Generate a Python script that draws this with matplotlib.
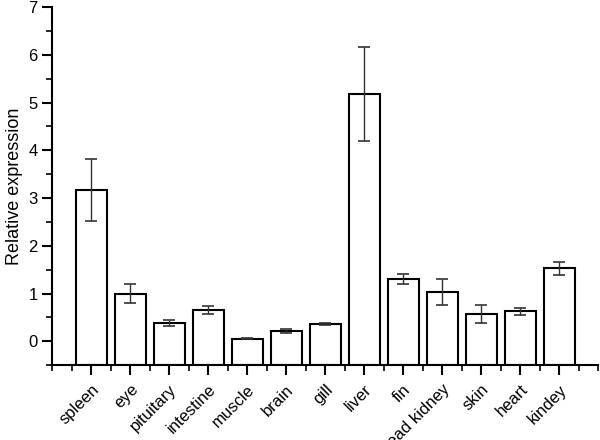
import numpy as np
import matplotlib
matplotlib.use("Agg")
import matplotlib.pyplot as plt
from matplotlib.ticker import MultipleLocator

plt.rcParams["font.family"] = ["Liberation Sans", "DejaVu Sans"]

tissues = ["spleen", "eye", "pituitary", "intestine", "muscle", "brain", "gill",
           "liver", "fin", "head kidney", "skin", "heart", "kindey"]
expr = [3.16, 1.00, 0.39, 0.66, 0.05, 0.21, 0.36, 5.18, 1.30, 1.03, 0.58, 0.63, 1.53]
err = [0.65, 0.20, 0.06, 0.08, 0.01, 0.04, 0.02, 0.98, 0.11, 0.27, 0.19, 0.07, 0.14]

ymin = -0.5

fig = plt.figure(figsize=(6, 4.4), dpi=100)
ax = fig.add_axes([0.087, 0.17, 0.91, 0.814])

x = np.arange(len(tissues))
# bars in the original start at the axis line, not at zero
ax.bar(x, np.array(expr) - ymin, bottom=ymin, width=0.8, color="white",
       edgecolor="black", linewidth=1.5)
ax.errorbar(x, expr, yerr=err, fmt="none", ecolor="#333333", elinewidth=1,
            capsize=4, capthick=1.2)

ax.set_xlim(-1, len(tissues))
ax.set_ylim(ymin, 7)
ax.spines["top"].set_visible(False)
ax.spines["right"].set_visible(False)
ax.spines["left"].set_linewidth(1.5)
ax.spines["bottom"].set_linewidth(1.5)
ax.spines["bottom"].set_zorder(3)

ax.set_xticks(x)
ax.set_xticklabels(tissues, rotation=45, ha="right", rotation_mode="anchor", fontsize=11.5)
ax.xaxis.set_minor_locator(MultipleLocator(0.5))
ax.yaxis.set_major_locator(MultipleLocator(1))
ax.yaxis.set_minor_locator(MultipleLocator(0.5))
ax.tick_params(which="major", length=7, width=1.5, labelsize=12)
ax.tick_params(axis="x", which="major", pad=5)
ax.tick_params(which="minor", length=4, width=1.2)
ax.set_ylabel("Relative expression", fontsize=13)

fig.savefig("out.png", dpi=100)
